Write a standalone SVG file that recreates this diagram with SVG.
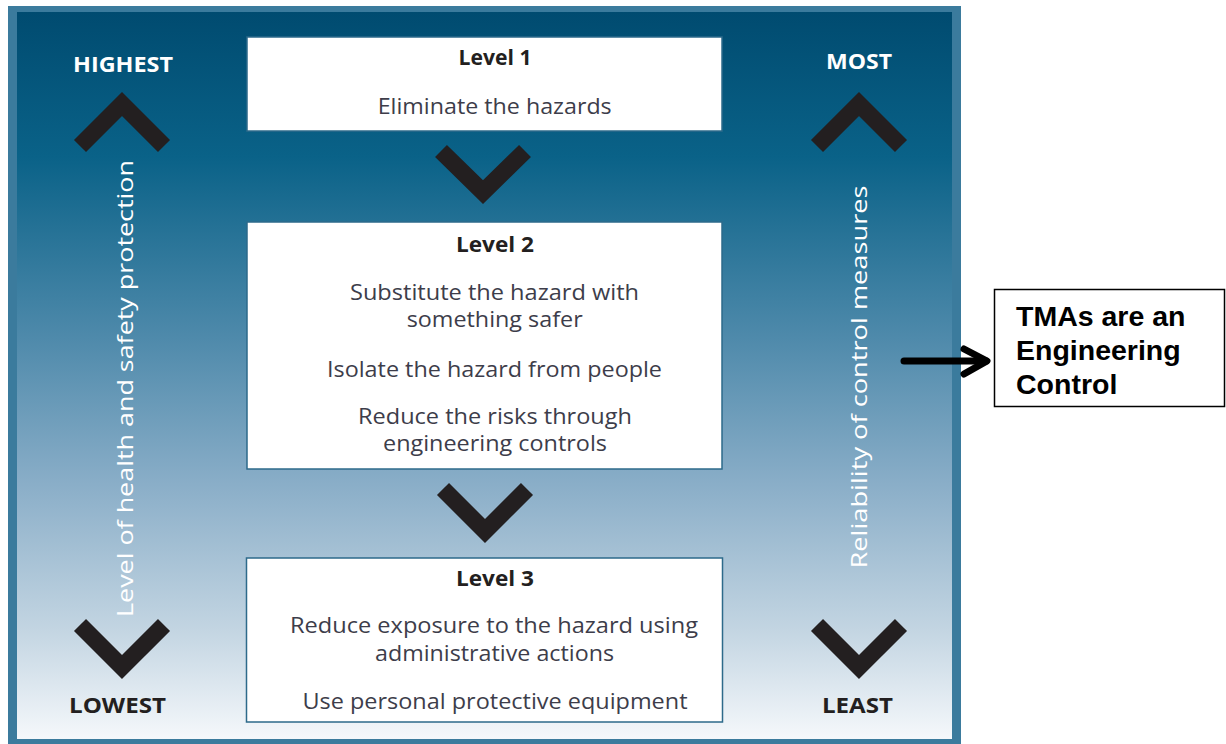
<svg xmlns="http://www.w3.org/2000/svg" width="1226" height="744" viewBox="0 0 1226 744">
<defs>
<linearGradient id="bg" x1="0" y1="0" x2="0" y2="1">
<stop offset="0" stop-color="#004b70"/>
<stop offset="0.2" stop-color="#0a6288"/>
<stop offset="0.45" stop-color="#4f8aab"/>
<stop offset="0.65" stop-color="#8aaec8"/>
<stop offset="0.85" stop-color="#c3d5e2"/>
<stop offset="1" stop-color="#f5f8fb"/>
</linearGradient>
</defs>
<style>
.box{fill:#ffffff;stroke:#2d6a8a;stroke-width:1.5}
.chev{fill:none;stroke:#231f20;stroke-width:17;stroke-linejoin:miter;stroke-linecap:butt}
.title{font-family:"Open Sans","Noto Sans",sans-serif;font-weight:bold;font-size:21px;fill:#231f20;text-anchor:middle}
.body{font-family:"Open Sans","Noto Sans",sans-serif;font-size:21px;fill:#3d3d4a;text-anchor:middle}
.capw{font-family:"Open Sans","Noto Sans",sans-serif;font-weight:bold;font-size:21px;fill:#ffffff;text-anchor:middle}
.capd{font-family:"Open Sans","Noto Sans",sans-serif;font-weight:bold;font-size:21px;fill:#231f20;text-anchor:middle}
.vert{font-family:"Open Sans","Noto Sans",sans-serif;font-size:21px;fill:#ffffff;text-anchor:middle}
.note{font-family:"Liberation Sans",Arial,sans-serif;font-weight:bold;font-size:28.5px;fill:#000000}
.arrow{fill:none;stroke:#000000;stroke-width:7;stroke-linecap:round;stroke-linejoin:round}
</style>
<rect x="0" y="0" width="1226" height="744" fill="#ffffff"/>
<g id="panel">
<rect x="8" y="6" width="953" height="738" fill="#3b7b9d"/>
<rect x="17" y="12" width="935" height="727" fill="url(#bg)"/>
</g>
<g id="scale-left">
<text class="capw" x="123" y="72" textLength="100" lengthAdjust="spacingAndGlyphs">HIGHEST</text>
<polyline class="chev" points="80,146 122,104 164,146"/>
<text class="vert" transform="translate(133,388.5) rotate(-90)" textLength="457" lengthAdjust="spacingAndGlyphs">Level of health and safety protection</text>
<polyline class="chev" points="80,625 122,667 164,625"/>
<text class="capd" x="117.5" y="713" textLength="97" lengthAdjust="spacingAndGlyphs">LOWEST</text>
</g>
<g id="scale-right">
<text class="capw" x="859" y="69" textLength="66" lengthAdjust="spacingAndGlyphs">MOST</text>
<polyline class="chev" points="817,146 859,104 901,146"/>
<text class="vert" transform="translate(867,377) rotate(-90)" textLength="383" lengthAdjust="spacingAndGlyphs">Reliability of control measures</text>
<polyline class="chev" points="817,625 859,667 901,625"/>
<text class="capd" x="857.5" y="713" textLength="71" lengthAdjust="spacingAndGlyphs">LEAST</text>
</g>
<g id="connectors">
<polyline class="chev" points="441,151 483,192 525,151"/>
<polyline class="chev" points="443,489 485,531 527,489"/>
<line class="arrow" x1="904" y1="361" x2="986" y2="361" stroke-linecap="butt"/>
<polyline class="arrow" points="964,349 987,361 964,374" stroke-width="6"/>
</g>
<g id="level1">
<rect class="box" x="247" y="37" width="475" height="94"/>
<text class="title" x="495" y="65" textLength="73" lengthAdjust="spacingAndGlyphs">Level 1</text>
<text class="body" x="494.7" y="114" textLength="234" lengthAdjust="spacingAndGlyphs">Eliminate the hazards</text>
</g>
<g id="level2">
<rect class="box" x="247" y="222" width="475" height="247"/>
<text class="title" x="495" y="252" textLength="78" lengthAdjust="spacingAndGlyphs">Level 2</text>
<text class="body" x="494.5" y="300" textLength="289" lengthAdjust="spacingAndGlyphs">Substitute the hazard with</text>
<text class="body" x="494.7" y="327" textLength="176" lengthAdjust="spacingAndGlyphs">something safer</text>
<text class="body" x="494.5" y="377" textLength="335" lengthAdjust="spacingAndGlyphs">Isolate the hazard from people</text>
<text class="body" x="495" y="423.5" font-size="20.5" textLength="274" lengthAdjust="spacingAndGlyphs">Reduce the risks through</text>
<text class="body" x="495" y="451" font-size="20.5" textLength="224" lengthAdjust="spacingAndGlyphs">engineering controls</text>
</g>
<g id="level3">
<rect class="box" x="246.5" y="558" width="476" height="164"/>
<text class="title" x="495" y="586" textLength="78" lengthAdjust="spacingAndGlyphs">Level 3</text>
<text class="body" x="494" y="633" textLength="408" lengthAdjust="spacingAndGlyphs">Reduce exposure to the hazard using</text>
<text class="body" x="494.5" y="661" textLength="239" lengthAdjust="spacingAndGlyphs">administrative actions</text>
<text class="body" x="495" y="709" textLength="385" lengthAdjust="spacingAndGlyphs">Use personal protective equipment</text>
</g>
<g id="tma-note">
<rect x="994.5" y="289.5" width="230" height="117" fill="#ffffff" stroke="#000000" stroke-width="1.5"/>
<text class="note" x="1016" y="326">TMAs are an</text>
<text class="note" x="1016" y="360">Engineering</text>
<text class="note" x="1016" y="394">Control</text>
</g>
</svg>
